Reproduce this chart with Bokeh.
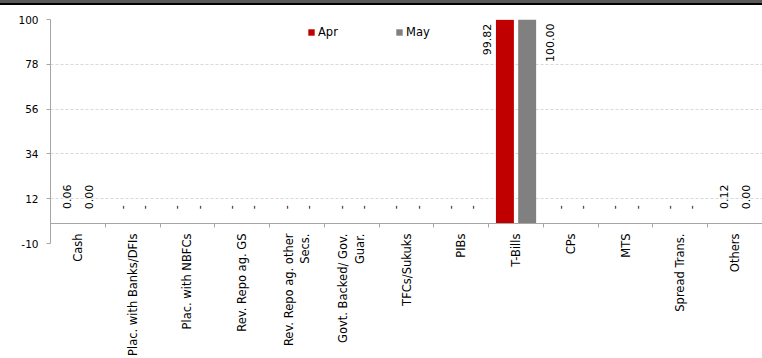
import math
from bokeh.plotting import figure
from bokeh.models import (ColumnDataSource, Range1d, FactorRange, FixedTicker, LinearAxis,
                          Div, Legend, LegendItem, CustomJSTickFormatter)
from bokeh.transform import dodge
from bokeh.layouts import column
from bokeh.embed import file_html
from bokeh.resources import INLINE
from bokeh.core.properties import value

categories = ["Cash", "Plac. with Banks/DFIs", "Plac. with NBFCs", "Rev. Repo ag. GS",
              "Rev. Repo ag. other\nSecs.", "Govt. Backed/ Gov.\nGuar.", "TFCs/Sukuks", "PIBs",
              "T-Bills", "CPs", "MTS", "Spread Trans.", "Others"]
series_names = ["Apr", "May"]
apr = [0.06, 0, 0, 0, 0, 0, 0, 0, 99.82, 0, 0, 0, 0.12]
may = [0.00, 0, 0, 0, 0, 0, 0, 0, 100.00, 0, 0, 0, 0.00]
apr_labels = ["0.06", "-", "-", "-", "-", "-", "-", "-", "99.82", "-", "-", "-", "0.12"]
may_labels = ["0.00", "-", "-", "-", "-", "-", "-", "-", "100.00", "-", "-", "-", "0.00"]
y_ticks = [-10, 12, 34, 56, 78, 100]

RED = "#C00000"
GREY = "#808080"
AXIS = "#A6A6A6"
FONT = "DejaVu Sans"
Y_MIN, Y_MAX = -10, 100
OFF = 0.203
BAR_W = 0.328

src = ColumnDataSource(dict(cat=categories, apr=apr, may=may))

p = figure(x_range=FactorRange(*categories, range_padding=0, factor_padding=0),
           y_range=Range1d(Y_MIN, Y_MAX),
           width=762, height=353, frame_width=712, frame_height=224,
           output_backend="svg", toolbar_location=None,
           min_border_left=50, min_border_right=0, min_border_top=14, min_border_bottom=115,
           margin=0)
p.outline_line_color = None
p.background_fill_color = "white"
p.border_fill_color = "white"

r_apr = p.vbar(x=dodge("cat", -OFF, range=p.x_range), top="apr", width=BAR_W, source=src,
               fill_color=RED, line_color=None)
r_may = p.vbar(x=dodge("cat", OFF, range=p.x_range), top="may", width=BAR_W, source=src,
               fill_color=GREY, line_color=None)

# data labels
for vals, labels, off, side in ((apr, apr_labels, -OFF, -18), (may, may_labels, OFF, 23)):
    normal = [i for i, v in enumerate(vals) if v < 90]
    high = [i for i, v in enumerate(vals) if v >= 90]
    s1 = ColumnDataSource(dict(cat=[categories[i] for i in normal],
                               y=[vals[i] for i in normal],
                               t=[labels[i] for i in normal]))
    p.text(x=dodge("cat", off, range=p.x_range), y="y", text="t", source=s1,
           angle=math.pi / 2, text_align="left", text_baseline="middle", y_offset=-14,
           text_font=value(FONT), text_font_size="11px", text_color="black")
    s2 = ColumnDataSource(dict(cat=[categories[i] for i in high],
                               y=[min(vals[i], Y_MAX) for i in high],
                               t=[labels[i] for i in high]))
    p.text(x=dodge("cat", off, range=p.x_range), y="y", text="t", source=s2,
           angle=math.pi / 2, text_align="right", text_baseline="middle", y_offset=4,
           x_offset=side, text_font=value(FONT), text_font_size="11px", text_color="black")

# y axis
p.yaxis.ticker = FixedTicker(ticks=y_ticks)
p.yaxis.axis_line_color = AXIS
p.yaxis.major_tick_line_color = AXIS
p.yaxis.major_tick_out = 4
p.yaxis.major_tick_in = 0
p.yaxis.minor_tick_line_color = None
p.yaxis.major_label_standoff = 8
p.yaxis.major_label_text_font = FONT
p.yaxis.major_label_text_font_size = "10.5px"
p.yaxis.major_label_text_color = "black"
p.yaxis.major_label_overrides = {-10: "-10"}

p.ygrid.ticker = FixedTicker(ticks=y_ticks)
p.ygrid.grid_line_color = "#D9D9D9"
p.ygrid.grid_line_dash = "3 2"
p.xgrid.grid_line_color = None

# x axis (category names), pulled up to sit just under the zero line
xa = p.xaxis[0]
xa.axis_line_color = None
xa.major_tick_line_color = None
xa.major_tick_out = 0
xa.major_tick_in = 0
xa.major_label_orientation = math.pi / 2
xa.major_label_standoff = -10
xa.major_label_text_font = FONT
xa.major_label_text_font_size = "11.5px"
xa.major_label_text_color = "black"

# axis line crossing at zero, with ticks between categories
tick_axis = LinearAxis(ticker=FixedTicker(ticks=list(range(len(categories) + 1))),
                       formatter=CustomJSTickFormatter(code="return ''"),
                       fixed_location=0, axis_line_color=AXIS,
                       major_tick_line_color=AXIS, major_tick_out=4, major_tick_in=0,
                       minor_tick_line_color=None)
p.add_layout(tick_axis, "below")

legend = Legend(items=[LegendItem(label=series_names[0], renderers=[r_apr]),
                       LegendItem(label=series_names[1], renderers=[r_may])],
                orientation="horizontal", location=(257, 204),
                glyph_width=8, glyph_height=8, label_height=8, label_width=72,
                label_standoff=3, spacing=5, padding=0, margin=0,
                border_line_color=None, background_fill_alpha=0,
                label_text_font=FONT, label_text_font_size="11.5px",
                label_text_baseline="middle", label_text_color="black")
p.add_layout(legend)

band = Div(text="", width=762, height=5, margin=0,
           styles={"background": "linear-gradient(#595959 0px, #595959 3px, #000 3px, #000 5px)",
                   "margin": "0px"})

layout = column(band, p, spacing=0, margin=0)
open("out.html", "w").write(file_html(layout, INLINE))
